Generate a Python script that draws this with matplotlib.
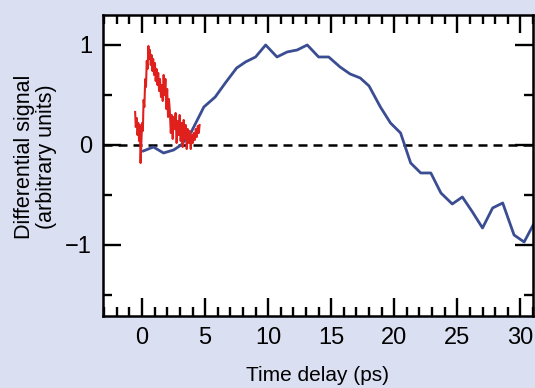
import matplotlib
matplotlib.use('Agg')
import matplotlib.pyplot as plt
from matplotlib.ticker import MultipleLocator
from matplotlib import rcParams

rcParams['font.family'] = 'sans-serif'
rcParams['font.sans-serif'] = ['Liberation Sans', 'DejaVu Sans']

# slow (blue) trace
t_blue = [0.1, 0.9, 1.7, 2.5, 3.1, 3.9, 4.9, 5.8, 6.6, 7.5, 8.2, 9.0, 9.8,
          10.7, 11.5, 12.3, 13.1, 14.0, 14.8, 15.7, 16.5, 17.3, 18.0, 18.9,
          19.7, 20.5, 21.3, 22.1, 22.9, 23.7, 24.6, 25.4, 26.2, 27.0, 27.8,
          28.6, 29.5, 30.3, 31.1]
s_blue = [-0.06, -0.02, -0.08, -0.05, 0.0, 0.13, 0.38, 0.48, 0.62, 0.77, 0.83,
          0.88, 1.0, 0.88, 0.93, 0.95, 1.0, 0.88, 0.88, 0.78, 0.71, 0.67, 0.59,
          0.38, 0.22, 0.12, -0.18, -0.28, -0.28, -0.48, -0.59, -0.52, -0.67,
          -0.83, -0.63, -0.58, -0.90, -0.97, -0.78]

# fast (red) trace, noisy
t_red = [-0.55, -0.50, -0.42, -0.36, -0.30, -0.24, -0.17, -0.12, -0.06, 0.00,
         0.06, 0.12, 0.18, 0.25, 0.31, 0.37, 0.44, 0.50, 0.56, 0.62, 0.69,
         0.75, 0.82, 0.88, 0.95, 1.02, 1.08, 1.15, 1.22, 1.28, 1.35, 1.42,
         1.50, 1.57, 1.64, 1.71, 1.78, 1.85, 1.92, 1.99, 2.06, 2.13, 2.20,
         2.28, 2.35, 2.43, 2.50, 2.58, 2.66, 2.74, 2.82, 2.90, 2.98, 3.06,
         3.14, 3.22, 3.30, 3.38, 3.46, 3.54, 3.62, 3.70, 3.78, 3.86, 3.94,
         4.02, 4.10, 4.18, 4.26, 4.34, 4.42, 4.50, 4.56]
s_red = [0.33, 0.18, 0.27, 0.10, 0.22, 0.04, 0.20, -0.18, 0.02, 0.22,
         0.14, 0.45, 0.38, 0.66, 0.58, 0.84, 0.76, 0.99, 0.86, 0.95, 0.80,
         0.90, 0.74, 0.86, 0.70, 0.82, 0.64, 0.76, 0.60, 0.72, 0.54, 0.66,
         0.48, 0.60, 0.44, 0.70, 0.50, 0.66, 0.36, 0.56, 0.28, 0.46, 0.34,
         0.12, 0.30, 0.06, 0.28, 0.16, 0.32, 0.02, 0.24, 0.10, 0.30, 0.04,
         0.22, -0.02, 0.25, 0.06, 0.20, -0.04, 0.16, 0.02, 0.14, -0.04, 0.10,
         0.02, 0.12, 0.05, 0.16, 0.08, 0.19, 0.12, 0.20]

x_ticks = [0, 5, 10, 15, 20, 25, 30]
y_ticks = [-1, 0, 1]
y_ticklabels = ['\u22121', '0', '1']

bg = '#dae0f2'
fig = plt.figure(figsize=(5.35, 3.88), dpi=100, facecolor=bg)
ax = fig.add_axes([0.1925, 0.1856, 0.8037, 0.7758])

ax.axhline(0, color='black', lw=1.8, ls=(0, (3.6, 2.4)), zorder=1)
ax.plot(t_blue, s_blue, color='#3a4d92', lw=2.0, zorder=2)
ax.plot(t_red, s_red, color='#e0201c', lw=1.5, zorder=3)

ax.set_xlim(-3.1, 31.0)
ax.set_ylim(-1.71, 1.30)
ax.set_xticks(x_ticks)
ax.set_yticks(y_ticks)
ax.set_yticklabels(y_ticklabels)
ax.xaxis.set_minor_locator(MultipleLocator(1))
ax.yaxis.set_minor_locator(MultipleLocator(0.5))
ax.tick_params(which='both', direction='in', top=True, right=True,
               width=1.7, labelsize=17, pad=8)
ax.tick_params(which='major', length=13)
ax.tick_params(which='minor', length=6.5)
for sp in ax.spines.values():
    sp.set_linewidth(1.8)

ax.set_xlabel('Time delay (ps)', fontsize=15, labelpad=12)
ax.set_ylabel('Differential signal\n(arbitrary units)', fontsize=15.5,
              linespacing=1.05)
ax.yaxis.set_label_coords(-0.108, 0.53)

fig.savefig('out.png', dpi=100, facecolor=bg)
